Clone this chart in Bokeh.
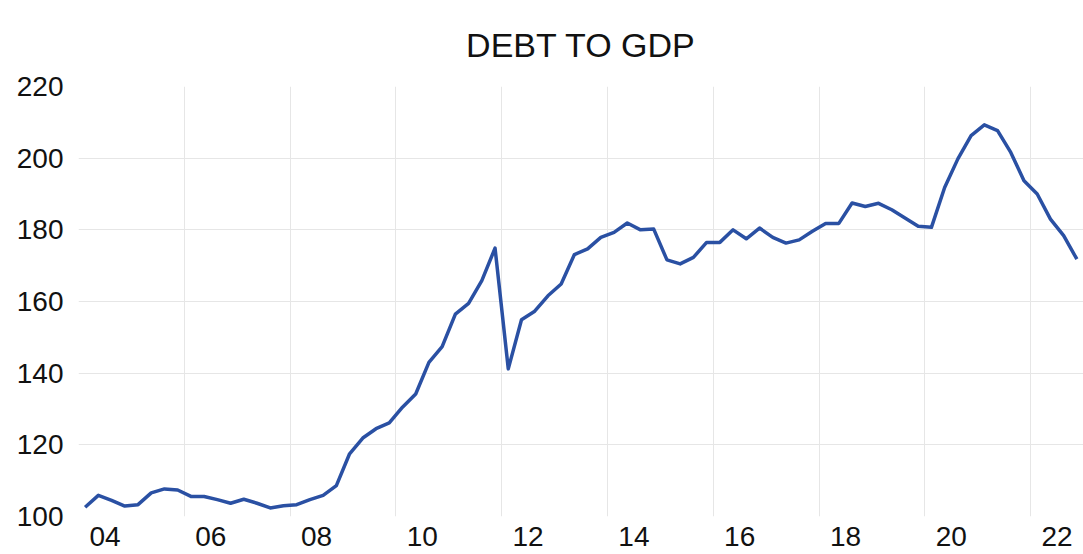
from bokeh.plotting import figure
from bokeh.models import Range1d, FixedTicker, Title
from bokeh.embed import file_html
from bokeh.resources import INLINE

# Quarterly series, 2004Q1 .. 2022Q4
start_year = 2004
debt_to_gdp = [102.6, 105.9, 104.5, 102.9, 103.3, 106.6, 107.7, 107.4,
               105.6, 105.6, 104.7, 103.7, 104.8, 103.7, 102.4, 103.0,
               103.3, 104.7, 105.9, 108.6, 117.5, 121.9, 124.5, 126.1,
               130.5, 134.2, 143.0, 147.4, 156.5, 159.5, 165.8, 174.9,
               141.2, 154.9, 157.3, 161.6, 164.9, 173.1, 174.7, 177.9,
               179.3, 181.9, 180.0, 180.2, 171.6, 170.5, 172.3, 176.5,
               176.5, 180.0, 177.5, 180.5, 177.9, 176.3, 177.2, 179.6,
               181.8, 181.8, 187.5, 186.5, 187.4, 185.6, 183.3, 181.0,
               180.7, 191.8, 199.8, 206.3, 209.3, 207.7, 201.6, 193.7,
               190.0, 183.0, 178.4, 171.8]

x_tick_years = [2004, 2006, 2008, 2010, 2012, 2014, 2016, 2018, 2020, 2022]
x_tick_labels = ["04", "06", "08", "10", "12", "14", "16", "18", "20", "22"]
y_ticks = [100, 120, 140, 160, 180, 200, 220]
title_text = "DEBT TO GDP"

# quarter midpoints in fractional years
t = [start_year + (i // 4) + ((i % 4) + 0.5) / 4.0 for i in range(len(debt_to_gdp))]

FONT = "Liberation Sans"

p = figure(width=1083, height=554, output_backend="svg", toolbar_location=None,
           x_range=Range1d(2004, 2023), y_range=Range1d(100, 220),
           min_border_left=78, min_border_right=0, min_border_top=86,
           min_border_bottom=38)
p.outline_line_color = None
p.background_fill_color = "white"
p.border_fill_color = "white"

p.title = Title(text=title_text, align="center", text_font=FONT,
                text_font_size="34px", text_font_style="normal",
                text_color="#111111", standoff=46)

p.line(t, debt_to_gdp, line_color="#2a50a3", line_width=3.5, line_join="round")

# axes
for ax in (p.xaxis, p.yaxis):
    ax.axis_line_color = None
    ax.major_tick_line_color = None
    ax.minor_tick_line_color = None
    ax.major_tick_out = 0
    ax.major_tick_in = 0
    ax.major_label_text_font = FONT
    ax.major_label_text_font_size = "28px"
    ax.major_label_text_color = "#111111"

centers = [y + 0.5 for y in x_tick_years]
p.xaxis.ticker = FixedTicker(ticks=centers)
p.xaxis.major_label_overrides = {c: lab for c, lab in zip(centers, x_tick_labels)}
p.xaxis.major_label_standoff = 10

p.yaxis.ticker = FixedTicker(ticks=y_ticks)
p.yaxis.major_label_standoff = 15

# grids
p.xgrid.ticker = FixedTicker(ticks=[y for y in x_tick_years if y > 2004])
p.ygrid.ticker = FixedTicker(ticks=[v for v in y_ticks if 100 < v < 220])
p.xgrid.grid_line_color = "#e6e6e6"
p.ygrid.grid_line_color = "#e6e6e6"
p.xgrid.grid_line_width = 1
p.ygrid.grid_line_width = 1

open("out.html", "w").write(file_html(p, INLINE))
